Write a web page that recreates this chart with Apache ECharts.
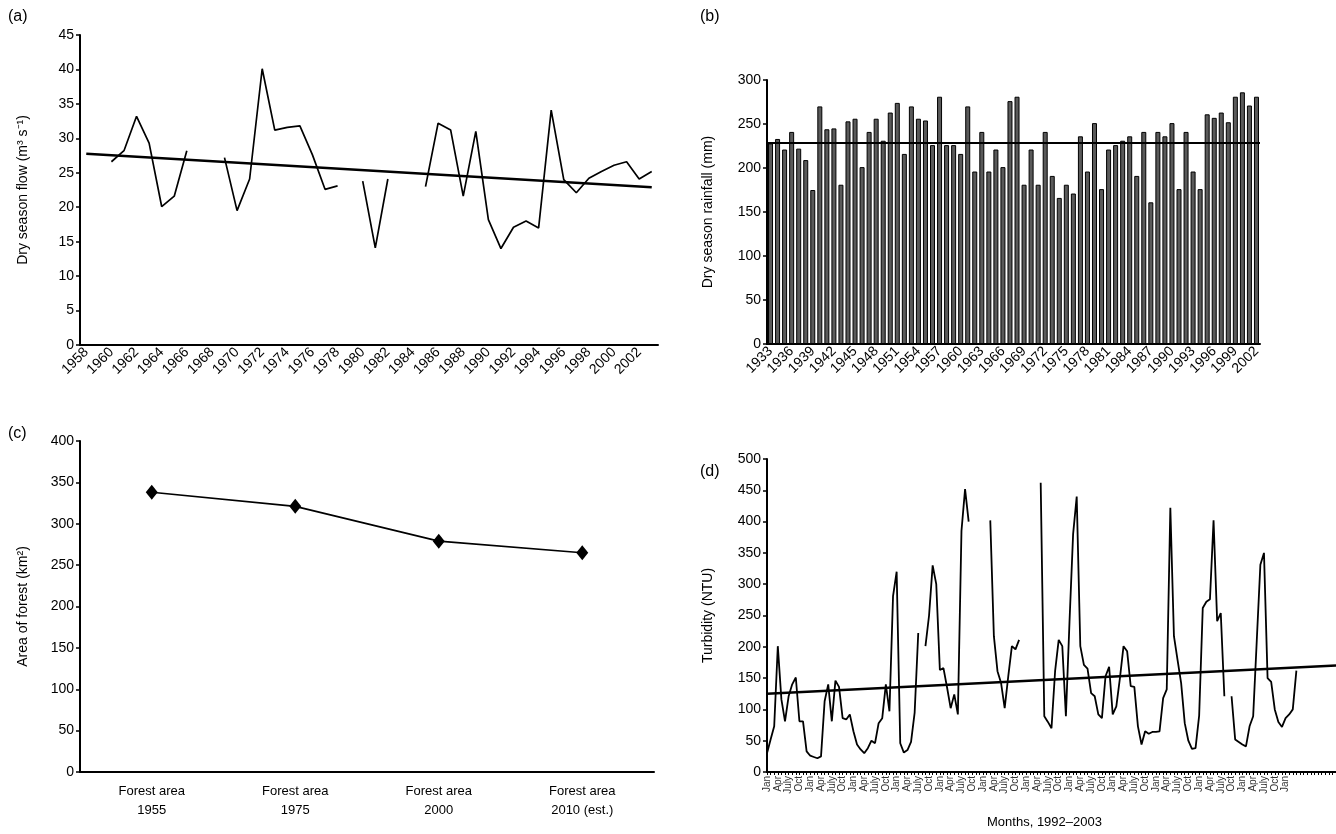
<!DOCTYPE html>
<html>
<head>
<meta charset="utf-8">
<script src="https://cdn.jsdelivr.net/npm/echarts@6/dist/echarts.min.js"></script>
<style>
html,body{margin:0;padding:0;background:#fff;}
#chart{width:1336px;height:834px;}
</style>
</head>
<body>
<div id="chart"></div>
<script>
// ---------- Panel (a): dry season flow ----------
const flowYears = ['1958','1959','1960','1961','1962','1963','1964','1965','1966','1967','1968','1969','1970','1971','1972','1973','1974','1975','1976','1977','1978','1979','1980','1981','1982','1983','1984','1985','1986','1987','1988','1989','1990','1991','1992','1993','1994','1995','1996','1997','1998','1999','2000','2001','2002','2003'];
const flowValues = [null,null,26.6,28.2,33.2,29.3,20.1,21.6,28.2,null,null,27.2,19.5,24.1,40.1,31.2,31.6,31.8,27.6,22.6,23.1,null,23.8,14.1,24.1,null,null,23.0,32.2,31.2,21.6,31.0,18.2,14.0,17.1,18.0,17.0,34.1,24.0,22.1,24.2,25.2,26.1,26.6,24.1,25.2];
const flowTrend = [[0, 27.75], [45, 22.9]];

// ---------- Panel (b): dry season rainfall ----------
const rainYears = ['1933','1934','1935','1936','1937','1938','1939','1940','1941','1942','1943','1944','1945','1946','1947','1948','1949','1950','1951','1952','1953','1954','1955','1956','1957','1958','1959','1960','1961','1962','1963','1964','1965','1966','1967','1968','1969','1970','1971','1972','1973','1974','1975','1976','1977','1978','1979','1980','1981','1982','1983','1984','1985','1986','1987','1988','1989','1990','1991','1992','1993','1994','1995','1996','1997','1998','1999','2000','2001','2002'];
const rainValues = [228,233,221,241,222,209,175,270,244,245,181,253,256,201,241,256,231,263,274,216,270,256,254,226,281,226,226,216,270,196,241,196,221,201,276,281,181,221,181,241,191,166,181,171,236,196,251,176,221,226,231,236,191,241,161,241,236,251,176,241,196,176,261,257,263,252,281,286,271,281];
const rainMean = 229;

// ---------- Panel (c): forest area ----------
const forestCats = ['Forest area\n1955','Forest area\n1975','Forest area\n2000','Forest area\n2010 (est.)'];
const forestValues = [338, 321, 279, 265];

// ---------- Panel (d): turbidity ----------
const monthNames = ['Jan','Feb','Mar','Apr','May','June','July','Aug','Sept','Oct','Nov','Dec'];
const turbYears = [1992,1993,1994,1995,1996,1997,1998,1999,2000,2001,2002,2003,2004,2005];
const turbValues = [
 30,52,73,201,116,81,121,140,151,81,81,33,
 26,24,22,25,113,140,81,146,136,86,84,92,
 65,44,36,30,38,50,46,78,86,140,97,281,
 320,46,31,35,48,95,222,null,201,250,330,300,
 163,166,135,102,124,92,385,452,400,null,null,null,
 null,null,402,217,161,142,102,153,201,196,211,null,
 null,null,null,null,462,89,80,70,161,211,201,89,
 240,380,440,201,171,165,126,121,92,86,153,168,
 92,105,150,201,193,137,136,73,44,65,61,64,
 64,65,118,132,422,217,179,142,78,50,37,38,
 90,262,272,276,402,241,254,121,null,121,52,48,
 44,41,73,89,210,331,350,150,144,100,80,72,
 86,92,100,162
];
const turbTrend = [[0, 125], [158, 170]];
const turbCount = 159;

// categories for months
const monthCats = [];
for (const y of turbYears) { for (const m of monthNames) { if (monthCats.length < turbCount) monthCats.push(m + ' ' + y); } }
const turbData = monthCats.map((c, i) => i < turbValues.length ? turbValues[i] : null);

const FONT = 'Liberation Sans, Arial, sans-serif';
const axisLineStyle = { color: '#000', width: 2 };
function yAx(gridIndex, max, interval, name, nameGap) {
  return {
    type: 'value', gridIndex, min: 0, max, interval,
    name, nameLocation: 'middle', nameGap, nameRotate: 90,
    nameTextStyle: { fontFamily: FONT, fontSize: 14, color: '#000' },
    axisLine: { show: true, lineStyle: axisLineStyle },
    axisTick: { show: true, length: 4, lineStyle: { color: '#000', width: 1.5 } },
    axisLabel: { fontFamily: FONT, fontSize: 14, color: '#000', margin: 6 },
    splitLine: { show: false }
  };
}

const chart = echarts.init(document.getElementById('chart'), null, { renderer: 'canvas' });
chart.setOption({
  animation: false,
  backgroundColor: '#fff',
  title: [
    { text: '(a)', left: 3, top: 4, textStyle: { fontFamily: FONT, fontSize: 16, fontWeight: 'normal', color: '#000' } },
    { text: '(b)', left: 695, top: 4, textStyle: { fontFamily: FONT, fontSize: 16, fontWeight: 'normal', color: '#000' } },
    { text: '(c)', left: 3, top: 421, textStyle: { fontFamily: FONT, fontSize: 16, fontWeight: 'normal', color: '#000' } },
    { text: '(d)', left: 695, top: 459, textStyle: { fontFamily: FONT, fontSize: 16, fontWeight: 'normal', color: '#000' } }
  ],
  grid: [
    { left: 80, top: 35, width: 578, height: 310 },
    { left: 767, top: 80, width: 493, height: 264 },
    { left: 80, top: 441, width: 574, height: 331 },
    { left: 767, top: 459, width: 571, height: 313 }
  ],
  xAxis: [
    {
      type: 'category', gridIndex: 0, data: flowYears, boundaryGap: true,
      axisLine: { lineStyle: axisLineStyle },
      axisTick: { interval: 0, length: 4, lineStyle: { color: '#000', width: 1 } },
      axisLabel: { interval: 1, rotate: 45, fontFamily: FONT, fontSize: 14, color: '#000', margin: 5 }
    },
    {
      type: 'category', gridIndex: 1, data: rainYears, boundaryGap: true,
      axisLine: { lineStyle: axisLineStyle },
      axisTick: { interval: 0, length: 4, lineStyle: { color: '#000', width: 1 } },
      axisLabel: { interval: 2, rotate: 45, fontFamily: FONT, fontSize: 14, color: '#000', margin: 5 }
    },
    {
      type: 'category', gridIndex: 2, data: forestCats, boundaryGap: true,
      axisLine: { lineStyle: axisLineStyle },
      axisTick: { length: 5, lineStyle: { color: '#000', width: 1.5 } },
      axisLabel: { fontFamily: FONT, fontSize: 13, color: '#000', margin: 10, lineHeight: 19 }
    },
    {
      type: 'category', gridIndex: 3, data: monthCats, boundaryGap: false,
      name: 'Months, 1992\u20132003', nameLocation: 'middle', nameGap: 44,
      nameTextStyle: { fontFamily: FONT, fontSize: 13, color: '#000', padding: [0, 14, 0, 0] },
      axisLine: { lineStyle: axisLineStyle },
      axisTick: { interval: 0, length: 3, lineStyle: { color: '#000', width: 1 } },
      axisLabel: {
        interval: (i) => i % 3 === 0 && i <= 144,
        formatter: (v) => v.split(' ')[0],
        rotate: 90, fontFamily: FONT, fontSize: 10, color: '#333', margin: 4
      }
    }
  ],
  yAxis: [
    yAx(0, 45, 5, 'Dry season flow (m\u00B3 s\u207B\u00B9)', 50),
    yAx(1, 300, 50, 'Dry season rainfall (mm)', 52),
    yAx(2, 400, 50, 'Area of forest (km\u00B2)', 50),
    yAx(3, 500, 50, 'Turbidity (NTU)', 52)
  ],
  series: [
    {
      type: 'line', xAxisIndex: 0, yAxisIndex: 0, data: flowValues,
      showSymbol: false, connectNulls: false,
      lineStyle: { color: '#000', width: 1.7 }
    },
    {
      type: 'line', xAxisIndex: 0, yAxisIndex: 0, data: flowTrend,
      showSymbol: false, lineStyle: { color: '#000', width: 2.5 }
    },
    {
      type: 'bar', xAxisIndex: 1, yAxisIndex: 1, data: rainValues,
      barWidth: 5,
      itemStyle: { color: '#5a5a5a', borderColor: '#000', borderWidth: 1 },
      markLine: {
        silent: true, symbol: 'none', label: { show: false },
        lineStyle: { color: '#000', width: 2, type: 'solid' },
        data: [{ yAxis: rainMean }]
      }
    },
    {
      type: 'line', xAxisIndex: 2, yAxisIndex: 2, data: forestValues,
      symbol: 'diamond', symbolSize: [12, 15],
      itemStyle: { color: '#000' },
      lineStyle: { color: '#000', width: 1.6 }
    },
    {
      type: 'line', xAxisIndex: 3, yAxisIndex: 3, data: turbData,
      showSymbol: false, connectNulls: false,
      lineStyle: { color: '#000', width: 1.8 }
    },
    {
      type: 'line', xAxisIndex: 3, yAxisIndex: 3, data: turbTrend,
      showSymbol: false, lineStyle: { color: '#000', width: 2.5 }
    }
  ]
});
</script>
</body>
</html>
